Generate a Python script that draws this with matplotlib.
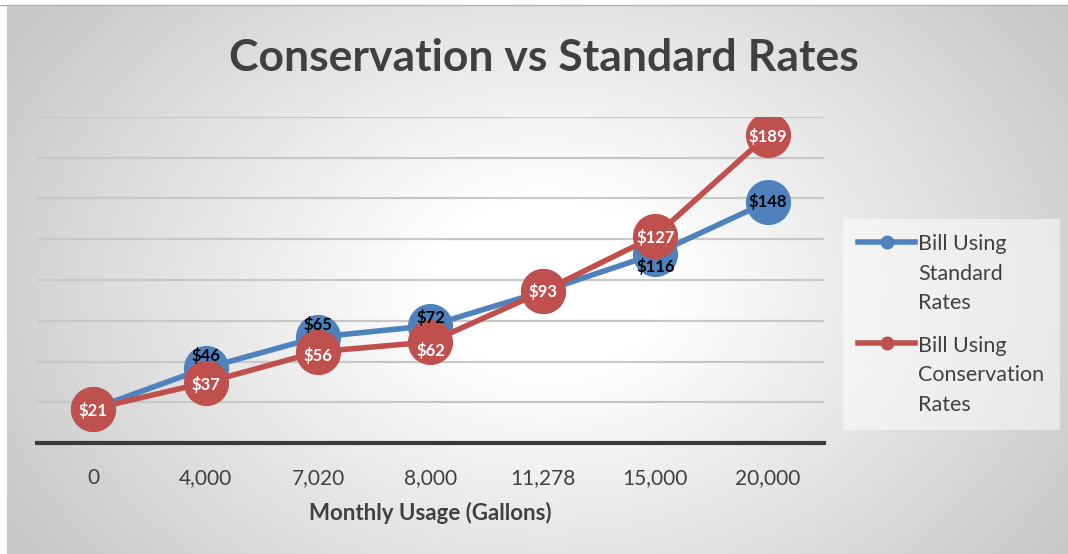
import numpy as np
import matplotlib
matplotlib.use("Agg")
import matplotlib.pyplot as plt

# ── Data ────────────────────────────────────────────────────────
usage_labels = ["0", "4,000", "7,020", "8,000", "11,278", "15,000", "20,000"]
standard_bill = [21, 46, 65, 72, 93, 116, 148]
conservation_bill = [21, 37, 56, 62, 93, 127, 189]
standard_name = "Bill Using\nStandard\nRates"
conservation_name = "Bill Using\nConservation\nRates"

# label nudges (points), Excel places them by hand-ish
std_label_dy = [None, 9, 9, 6, None, -9, 0]
con_label_dy = [-1, -1, -3, -6, 0, -1, -1]

BLUE = "#4f81bd"
RED = "#c0504d"
TEXT = "#404040"
FONT = "Lato"

W, H = 1068, 554
fig = plt.figure(figsize=(W / 100, H / 100), dpi=100, facecolor="white")

# ── Background (radial gradient like the Excel chart area) ──────
bg = fig.add_axes([7 / W, 0, 1 - 7 / W, (H - 5) / H])
bg.set_axis_off()
yy, xx = np.mgrid[0:H - 5, 0:W - 7]
r = np.sqrt(((xx - 540) / 580.0) ** 2 + ((yy - 280) / 430.0) ** 2)
shade = 1.0 - 0.22 * np.clip((r - 0.2) / 0.9, 0, 1)
bg.imshow(np.dstack([shade] * 3), aspect="auto", interpolation="bilinear")
fig.add_artist(plt.Line2D([0, 1], [(H - 5) / H] * 2, color="#b0b0b0", lw=1))

# ── Plot area ───────────────────────────────────────────────────
left, right, top, bottom = 37, 824, 117, 443
ax = fig.add_axes([left / W, (H - bottom) / H, (right - left) / W, (bottom - top) / H])
ax.patch.set_alpha(0)
x = np.arange(len(usage_labels))

ax.set_xlim(-0.5, len(usage_labels) - 0.5)
ax.set_ylim(0, 200)
ax.set_yticks(np.arange(25, 201, 25))
ax.yaxis.grid(True, color="#c8c8c8", lw=1.6)
ax.set_axisbelow(True)
ax.tick_params(axis="y", left=False, labelleft=False)
for s in ["top", "left", "right"]:
    ax.spines[s].set_visible(False)
ax.spines["bottom"].set_color("#3a3a3a")
ax.spines["bottom"].set_linewidth(3)

ax.set_xticks(x)
ax.set_xticklabels(usage_labels, fontsize=15, family=FONT, color=TEXT)
ax.tick_params(axis="x", length=0, pad=18)
ax.set_xlabel("Monthly Usage (Gallons)", fontsize=16, family=FONT,
              fontweight="bold", color=TEXT, labelpad=10)

ax.plot(x, standard_bill, color=BLUE, lw=4, marker="o", ms=31.5,
        mec=BLUE, label=standard_name, zorder=3)
ax.plot(x, conservation_bill, color=RED, lw=4, marker="o", ms=31.5,
        mec=RED, label=conservation_name, zorder=4)

for xi, v, dy in zip(x, standard_bill, std_label_dy):
    if dy is None:
        continue
    ax.annotate(f"${v}", (xi, v), xytext=(0, dy), textcoords="offset points",
                ha="center", va="center", fontsize=12, family=FONT,
                fontweight="bold", color="black", zorder=6)
for xi, v, dy in zip(x, conservation_bill, con_label_dy):
    ax.annotate(f"${v}", (xi, v), xytext=(0, dy), textcoords="offset points",
                ha="center", va="center", fontsize=12, family=FONT,
                fontweight="bold", color="white", zorder=6)

# ── Title ───────────────────────────────────────────────────────
fig.text(544 / W, 1 - 58 / H, "Conservation vs Standard Rates", ha="center",
         va="center", fontsize=32, family=FONT, fontweight="bold", color=TEXT)

# ── Legend ──────────────────────────────────────────────────────
handles = [
    plt.Line2D([], [], color=BLUE, lw=4, marker="o", ms=9),
    plt.Line2D([], [], color=RED, lw=4, marker="o", ms=9),
]
leg = fig.legend(handles, [standard_name, conservation_name],
                 loc="upper left", bbox_to_anchor=(843 / W, 1 - 219 / H),
                 prop={"family": FONT, "size": 15.5}, labelcolor=TEXT,
                 frameon=True, facecolor="white", framealpha=0.5,
                 edgecolor="none", fancybox=False, handlelength=2.65,
                 handletextpad=0.15, labelspacing=1.05, borderpad=0.7,
                 borderaxespad=0)
for t in leg.get_texts():
    t.set_linespacing(1.6)
for col in leg._legend_handle_box.get_children():
    for row in col.get_children():
        row.align = "top"

fig.savefig("out.png", dpi=100)
